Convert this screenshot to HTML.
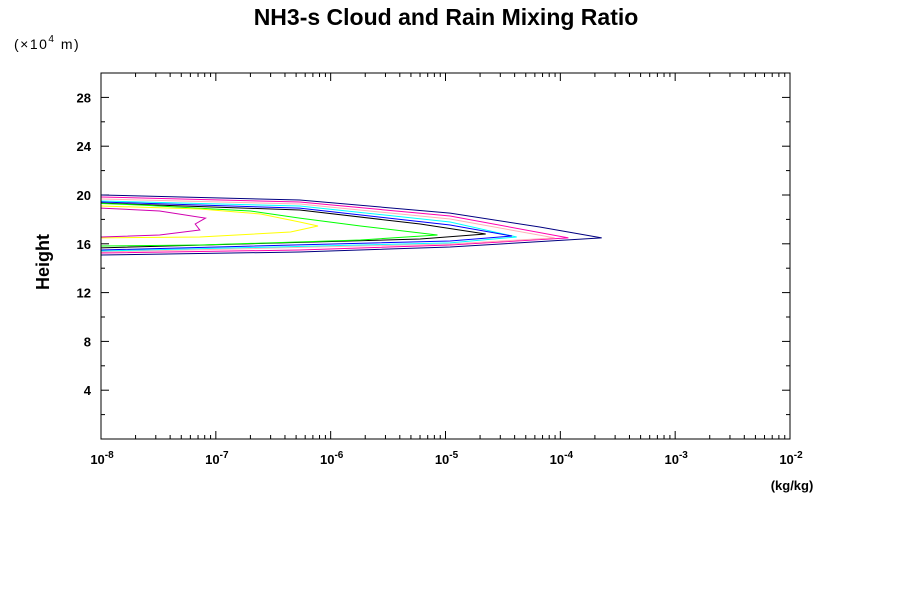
<!DOCTYPE html>
<html><head><meta charset="utf-8"><style>
body{margin:0;background:#fff;}
svg text{font-family:"Liberation Sans",sans-serif;}
</style></head><body>
<svg id="chart" width="900" height="600" xmlns="http://www.w3.org/2000/svg">
<rect width="900" height="600" fill="#fff"/>
<text x="446" y="25" text-anchor="middle" font-size="23" font-weight="bold">NH3-s Cloud and Rain Mixing Ratio</text>
<text x="14" y="49" font-size="14" letter-spacing="1.5">(×10<tspan dy="-7" font-size="10">4</tspan><tspan dy="7"> m)</tspan></text>
<text transform="translate(49,262) rotate(-90)" text-anchor="middle" font-size="18" font-weight="bold">Height</text>
<text x="792" y="490" text-anchor="middle" font-size="13" font-weight="bold">(kg/kg)</text>
<g id="axes"></g>
<g id="contours"></g>
<rect x="101" y="73" width="689" height="366" fill="none" stroke="#000" stroke-width="1"/>
</svg>
<script>
const yTicks=[4,8,12,16,20,24,28];
const xDecades=[-8,-7,-6,-5,-4,-3,-2];
const contourColors=["#000080","#ff00b0","#ffb0b8","#00ffff","#0000ff","#000000","#00ff00","#ffff00","#d000b0"];
const contourNavy=[[-8,20.0],[-6.27,19.59],[-4.96,18.52],[-4.18,17.38],[-3.64,16.48],[-4.96,15.74],[-6.27,15.33],[-8,15.08]];
const contourMagenta=[[-8,19.84],[-6.27,19.43],[-4.96,18.28],[-3.93,16.48],[-4.96,15.90],[-6.27,15.49],[-8,15.25]];
const contourPink=[[-8,19.67],[-6.27,19.26],[-4.96,18.03],[-4.05,16.48],[-4.96,15.98],[-8,15.33]];
const contourCyan=[[-8,19.51],[-6.27,19.10],[-4.96,17.79],[-4.38,16.56],[-4.96,16.07],[-8,15.41]];
const contourBlue=[[-8,19.43],[-6.27,18.93],[-4.96,17.54],[-4.42,16.64],[-4.96,16.23],[-8,15.49]];
const contourBlack=[[-8,19.34],[-6.27,18.77],[-5.22,17.62],[-4.65,16.80],[-5.22,16.39],[-8,15.66]];
const contourGreen=[[-8,19.3],[-7.66,19.18],[-6.70,18.69],[-6.27,18.11],[-5.74,17.46],[-5.07,16.72],[-5.74,16.31],[-7.14,15.90],[-8,15.82]];
const contourYellow=[[-8,19.10],[-7.14,18.85],[-6.61,18.44],[-6.27,17.79],[-6.11,17.46],[-6.35,16.97],[-7.14,16.56],[-8,16.48]];
const contourInner=[[-8,18.93],[-7.49,18.69],[-7.09,18.11],[-7.18,17.62],[-7.14,17.13],[-7.49,16.72],[-8,16.56]];
const contours=[contourNavy,contourMagenta,contourPink,contourCyan,contourBlue,contourBlack,contourGreen,contourYellow,contourInner];
const contourNames=["navy","magenta","pink","cyan","blue","black","green","yellow","inner-magenta"];

const X0=101,X1=790,Y0=439,Y1=73,yMax=30;
const xs=l=>X0+(l+8)/6*(X1-X0);
const ys=h=>Y0-h/yMax*(Y0-Y1);
const NS="http://www.w3.org/2000/svg";
const axes=document.getElementById('axes');
function line(x1,y1,x2,y2,name){const e=document.createElementNS(NS,'line');
e.setAttribute('x1',x1);e.setAttribute('y1',y1);e.setAttribute('x2',x2);e.setAttribute('y2',y2);
e.setAttribute('stroke','#000');


axes.appendChild(e);}
function text(x,y,s,anchor,name){const e=document.createElementNS(NS,'text');
e.setAttribute('x',x);e.setAttribute('y',y);e.setAttribute('text-anchor',anchor);
e.setAttribute('font-size','13');e.setAttribute('font-weight','bold');


e.innerHTML=s;axes.appendChild(e);return e;}
for(let h=2;h<yMax;h+=2){const y=ys(h);const maj=yTicks.includes(h);const L=maj?8:4;
line(X0,y,X0+L,y,'y-tick');line(X1,y,X1-L,y,'y-tick');}
yTicks.forEach(h=>text(X0-10,ys(h)+5,h,'end','y-tick-label'));
xDecades.forEach((d,i)=>{const x=xs(d);line(x,Y0,x,Y0-8,'x-tick');line(x,Y1,x,Y1+8,'x-tick');
text(x+1,Y0+25,'10<tspan dy="-6" font-size="10">'+d+'</tspan>','middle','x-tick-label');
if(i<xDecades.length-1){for(let k=2;k<10;k++){const xm=xs(d+Math.log10(k));line(xm,Y0,xm,Y0-4,'x-minor-tick');line(xm,Y1,xm,Y1+4,'x-minor-tick');}}});
const cg=document.getElementById('contours');
contours.forEach((c,i)=>{const p=document.createElementNS(NS,'polyline');
p.setAttribute('points',c.map(q=>xs(q[0]).toFixed(1)+','+ys(q[1]).toFixed(1)).join(' '));
p.setAttribute('fill','none');p.setAttribute('stroke',contourColors[i]);p.setAttribute('stroke-width','1');


cg.appendChild(p);});
</script>
</body></html>
